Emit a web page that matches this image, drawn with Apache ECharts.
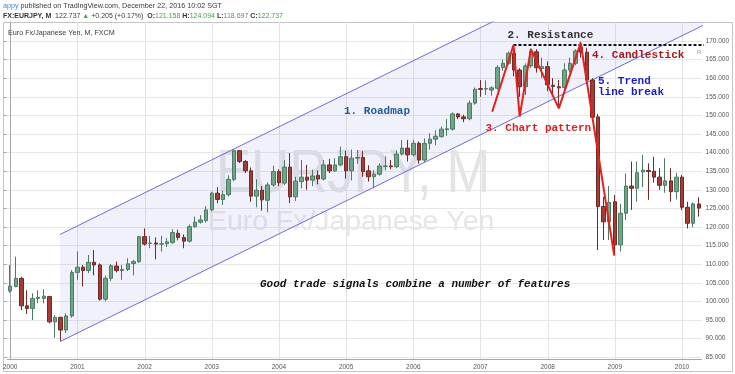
<!DOCTYPE html>
<html><head><meta charset="utf-8">
<script src="https://cdn.jsdelivr.net/npm/echarts@6/dist/echarts.min.js"></script>
<style>html,body{margin:0;padding:0;background:#fff}#c{width:735px;height:374px}</style>
</head><body><div id="c"></div>
<script>
// ---- data (monthly EUR/JPY, Jan 2000 .. Apr 2010) ----
const startYear = 2000;
const monthCount = 124;
const opens = [
 102.8,104.0,106.2,98.8,98.1,100.8,100.8,101.3,94.5,95.7,92.3,96.1,
 107.8,109.2,108.3,110.5,109.8,100.6,106.2,109.5,108.3,108.6,110.2,110.7,
 117.4,115.6,115.7,115.4,115.5,115.8,118.3,117.2,116.2,120.1,121.3,121.7,
 124.6,129.1,127.4,128.7,132.8,140.5,137.6,135.1,128.3,129.9,127.2,131.3,
 134.9,131.8,136.1,128.1,132.2,133.4,132.6,133.9,132.9,136.7,135.1,136.7,
 138.9,135.1,138.5,138.7,135.1,133.5,134.2,136.3,136.4,136.2,139.6,141.2,
 139.4,142.5,138.0,142.5,143.6,144.3,146.2,146.3,150.4,149.6,149.1,153.3,
 157.2,157.1,156.8,157.3,162.9,164.0,166.7,162.2,157.7,163.3,167.1,162.6,
 163.1,158.1,157.7,157.5,162.2,164.0,168.4,167.0,159.5,149.6,125.5,121.4,
 126.8,115.2,123.7,131.0,130.4,134.8,135.2,135.0,133.4,131.2,132.4,129.5,
 133.4,125.3,121.0,126.2];
const closes = [
 104.1,106.2,98.8,98.1,100.8,101.1,101.4,94.5,95.7,92.3,96.1,107.8,
 109.2,108.3,110.5,109.8,100.6,106.2,109.6,108.3,108.6,110.1,110.7,117.4,
 115.4,115.7,115.4,115.5,116.0,118.5,117.2,116.2,120.1,121.3,121.9,124.6,
 129.1,127.4,128.7,132.8,140.5,137.6,135.1,128.3,129.9,127.3,131.3,134.9,
 131.9,136.1,128.1,132.3,133.4,132.6,133.7,132.9,136.7,135.1,136.7,138.9,
 135.1,138.5,138.7,134.9,133.5,134.2,136.4,136.4,136.2,139.6,141.2,139.4,
 142.5,138.0,142.5,143.6,144.4,146.3,146.4,150.4,149.6,149.1,153.3,157.0,
 157.0,157.2,157.4,162.9,164.0,166.7,162.2,157.7,163.3,167.1,162.8,163.1,
 158.2,157.8,157.4,162.2,164.0,167.3,167.0,159.5,149.5,125.5,121.4,126.6,
 115.2,123.7,131.0,130.4,134.6,135.3,134.9,133.4,131.2,132.4,129.5,133.4,
 125.3,121.0,126.2,125.079];
const lows = [
 102.3,103.8,97.7,96.6,95.0,99.5,99.5,94.1,90.2,89.4,91.5,95.6,
 105.8,104.0,107.6,107.0,100.2,100.0,105.5,107.8,105.8,108.2,107.0,110.3,
 115.0,114.3,111.3,113.4,114.6,115.5,116.4,114.3,115.8,119.8,120.9,121.2,
 124.2,126.4,125.9,128.2,132.3,137.2,134.5,126.8,125.3,124.4,124.0,130.8,
 131.0,131.3,126.4,127.0,130.4,130.0,131.0,131.5,132.5,134.5,134.8,136.3,
 133.0,132.5,137.0,133.5,132.2,130.4,133.8,135.2,135.5,135.8,139.2,137.6,
 139.0,137.0,137.5,140.8,142.0,144.0,144.5,145.9,149.0,148.2,148.7,152.9,
 155.0,155.5,155.3,156.9,162.0,163.6,160.5,155.0,155.5,162.8,161.5,160.0,
 156.5,155.5,152.3,156.5,161.5,163.5,165.5,158.5,148.5,113.8,116.5,116.5,
 112.5,113.4,121.9,124.6,126.8,130.7,127.3,131.9,130.0,129.2,126.8,127.4,
 124.5,119.6,119.9,122.8];
const highs = [
 109.8,112.0,106.6,103.0,102.2,103.0,103.3,101.5,96.3,95.9,96.8,108.4,
 113.4,109.8,112.5,113.8,110.2,107.0,110.0,110.7,109.8,111.6,111.2,117.6,
 119.6,117.6,117.2,117.6,117.0,119.4,119.3,118.0,120.7,122.8,123.2,125.6,
 129.5,130.7,129.8,133.9,140.9,140.7,138.0,136.0,132.8,131.0,132.0,136.5,
 135.5,138.0,139.9,133.5,138.0,136.7,135.4,135.2,138.0,138.3,138.5,141.6,
 140.5,140.8,140.7,140.4,136.6,135.3,137.1,139.0,138.0,140.6,143.4,143.4,
 143.4,143.0,143.8,145.2,146.0,147.0,149.0,150.8,150.6,150.2,154.0,157.5,
 159.5,159.4,157.8,163.5,165.0,167.2,168.9,162.7,164.0,168.0,167.8,165.5,
 164.5,160.0,159.5,164.0,165.5,167.8,169.8,168.2,160.0,150.4,128.1,131.0,
 128.6,126.2,134.4,137.6,137.6,139.4,137.1,138.9,135.8,138.5,135.8,134.6,
 134.0,126.8,126.6,128.0];
const lastPrice = 125.079;
const yTicks = {min: 85, max: 170, step: 5};
// trend channel and hand-drawn annotations, as [month index, price]
const channelLower = [[8.9, 89.2], [123.9, 174.3]];
const channelUpper = [[8.9, 118.0], [123.9, 203.1]];
const patternLine = [[86.1, 151.0], [89.9, 168.9], [91.0, 149.7], [93.0, 167.8], [98.0, 151.9], [101.9, 169.5], [107.9, 112.3]];
const resistance = [[89.9, 168.9], [124, 168.9]];

// ---- build ----
const months = [];
for (let i = 0; i < monthCount; i++) {
  const y = startYear + Math.floor(i / 12), m = i % 12 + 1;
  months.push(y + '-' + (m < 10 ? '0' + m : m));
}
const janIdx = [];
months.forEach((m, i) => { if (m.endsWith('-01')) janIdx.push(i); });
const ohlc = opens.map((o, i) => [o, closes[i], lows[i], highs[i]]);

const G = {left: 3.6, width: 698};
const chart = echarts.init(document.getElementById('c'), null, {renderer: 'canvas'});
const mono = '"Liberation Mono", "DejaVu Sans Mono", monospace';
const sans = '"Liberation Sans", Arial, sans-serif';

function txt(x, y, text, color, size, weight) {
  return {type: 'text', x: x, y: y, z: 50, silent: true,
    style: {text: text, fill: color, font: (weight || 'bold') + ' ' + size + 'px ' + mono, verticalAlign: 'middle'}};
}

chart.setOption({
  animation: false,
  backgroundColor: '#ffffff',
  grid: [
    {left: G.left, top: 22, width: G.width, height: 337},
    {left: G.left, top: 41, width: G.width, height: 316.2}
  ],
  xAxis: [
    {gridIndex: 0, type: 'category', data: months, boundaryGap: true,
     axisLine: {show: true, lineStyle: {color: '#a8a8a8'}},
     axisTick: {show: false},
     axisLabel: {interval: (i, v) => v.endsWith('-01'), formatter: v => v.slice(0, 4),
                 fontSize: 6.5, color: '#555', margin: 5, fontFamily: sans},
     splitLine: {show: false}},
    {gridIndex: 0, type: 'value', min: -0.5, max: monthCount - 0.5, show: false},
    {gridIndex: 1, type: 'value', min: 0, max: 1, show: false}
  ],
  yAxis: [
    {gridIndex: 0, type: 'value', min: 84.516, max: 175.108, position: 'right',
     axisLine: {show: true, lineStyle: {color: '#a8a8a8'}}, axisTick: {show: false},
     axisLabel: {show: false}, splitLine: {show: false}},
    {gridIndex: 1, type: 'value', min: yTicks.min, max: yTicks.max, interval: yTicks.step, position: 'right',
     axisLine: {show: false}, axisTick: {show: true, length: 3, lineStyle: {color: '#a8a8a8'}},
     axisLabel: {formatter: v => v.toFixed(3), fontSize: 6.5, color: '#555', margin: 4, fontFamily: sans},
     splitLine: {show: true, lineStyle: {color: '#e6e6e6', width: 1}}}
  ],
  graphic: [
    {type: 'rect', z: 0, silent: true, shape: {x: 3.5, y: 22.5, width: 729, height: 349}, style: {fill: 'none', stroke: '#c4c4c4', lineWidth: 1}},
    {type: 'text', x: 3, y: 6, z: 50, silent: true, style: {
      text: '{u|appy} published on TradingView.com, December 22, 2016 10:02 SGT',
      fill: '#3a3a3a', fontSize: 7.2, fontFamily: sans, verticalAlign: 'middle',
      rich: {u: {fill: '#3d8bd9', fontSize: 7.2, fontFamily: sans}}}},
    {type: 'text', x: 3, y: 16, z: 50, silent: true, style: {
      text: '{k|FX:EURJPY, M}  122.737 {g|▲} +0.205 (+0.17%)  {k|O:}{g|121.158} {k|H:}{g|124.094} {k|L:}{g|118.697} {k|C:}{g|122.737}',
      fill: '#3a3a3a', fontSize: 7, fontFamily: sans, verticalAlign: 'middle',
      rich: {k: {fill: '#333', fontSize: 7, fontWeight: 'bold', fontFamily: sans},
             g: {fill: '#4aa14a', fontSize: 7, fontFamily: sans}}}},
    {type: 'text', x: 8, y: 33, z: 50, silent: true, style: {text: 'Euro Fx/Japanese Yen, M, FXCM', fill: '#3a3a3a', fontSize: 7.2, fontFamily: sans, verticalAlign: 'middle'}},
    // watermark
    {type: 'text', x: 216, y: 175, z: 1, silent: true, scaleX: 0.85, style: {text: 'EURJPY, M', fill: '#e4e4e4', fontSize: 62, fontFamily: sans, verticalAlign: 'middle'}},
    {type: 'text', x: 208, y: 222, z: 1, silent: true, style: {text: 'Euro Fx/Japanese Yen', fill: '#e6e6e6', fontSize: 28.4, fontFamily: sans, verticalAlign: 'middle'}},
    // annotations
    txt(344, 111, '1. Roadmap', '#215d9c', 11),
    txt(507.5, 35, '2. Resistance', '#333333', 11),
    txt(485.5, 128.5, '3. Chart pattern', '#e31e1e', 11),
    txt(592, 55, '4. Candlestick', '#a3181c', 11),
    txt(598, 81.5, '5. Trend', '#1a1ad0', 11),
    txt(598, 92.5, 'line break', '#1a1ad0', 11),
    txt(260, 284, 'Good trade signals combine a number of features', '#111111', 11, 'italic bold'),
    {type: 'text', x: 697, y: 52, z: 50, silent: true, style: {text: 'R', fill: '#999', fontSize: 6, fontFamily: sans, verticalAlign: 'middle'}}
  ],
  series: [
    // yearly vertical grid lines at the January bars
    {type: 'custom', xAxisIndex: 1, yAxisIndex: 0, z: 0, silent: true,
     data: janIdx.map(i => [i, 130]), encode: {x: 0, y: 1},
     renderItem: function (params, api) {
       const x = Math.round(api.coord([api.value(0), 130])[0]) + 0.5;
       const cs = params.coordSys;
       return {type: 'line', shape: {x1: x, y1: cs.y, x2: x, y2: cs.y + cs.height},
               style: {stroke: '#e2e2e2', lineWidth: 1}};
     }},
    {type: 'custom', xAxisIndex: 1, yAxisIndex: 0, z: 1, clip: true, silent: true,
     data: [[channelLower[0][0], channelLower[0][1]]], encode: {x: 0, y: 1},
     renderItem: function (params, api) {
       const pts = [channelLower[0], channelLower[1], channelUpper[1], channelUpper[0]].map(p => api.coord(p));
       return {type: 'polygon', shape: {points: pts}, style: {fill: 'rgba(170,170,235,0.16)'}};
     }},
    {type: 'line', xAxisIndex: 1, yAxisIndex: 0, data: channelLower, symbol: 'none', z: 2, silent: true,
     lineStyle: {color: '#6a6ae0', width: 1}},
    {type: 'line', xAxisIndex: 1, yAxisIndex: 0, data: channelUpper, symbol: 'none', z: 2, silent: true,
     lineStyle: {color: '#6a6ae0', width: 1}},
    {type: 'candlestick', xAxisIndex: 0, yAxisIndex: 0, data: ohlc, barWidth: 4, z: 3,
     itemStyle: {color: '#6ea787', color0: '#a63b36', borderColor: '#4d7a62', borderColor0: '#6e2a26', borderWidth: 1},
     markLine: {silent: true, symbol: 'none', z: 6,
       data: [{yAxis: lastPrice}], lineStyle: {opacity: 0},
       label: {position: 'end', distance: 1, formatter: () => lastPrice.toFixed(3), color: '#fff',
               backgroundColor: '#e2928c', padding: [2, 4, 1, 4], fontSize: 6.5, fontFamily: sans}}},
    {type: 'line', xAxisIndex: 1, yAxisIndex: 0, data: resistance, symbol: 'none', z: 4, silent: true,
     lineStyle: {color: '#111', width: 2, type: [3, 2]}},
    {type: 'line', xAxisIndex: 1, yAxisIndex: 0, data: patternLine, symbol: 'none', z: 5, silent: true,
     lineStyle: {color: '#e3201e', width: 2}}
  ]
});
</script></body></html>
